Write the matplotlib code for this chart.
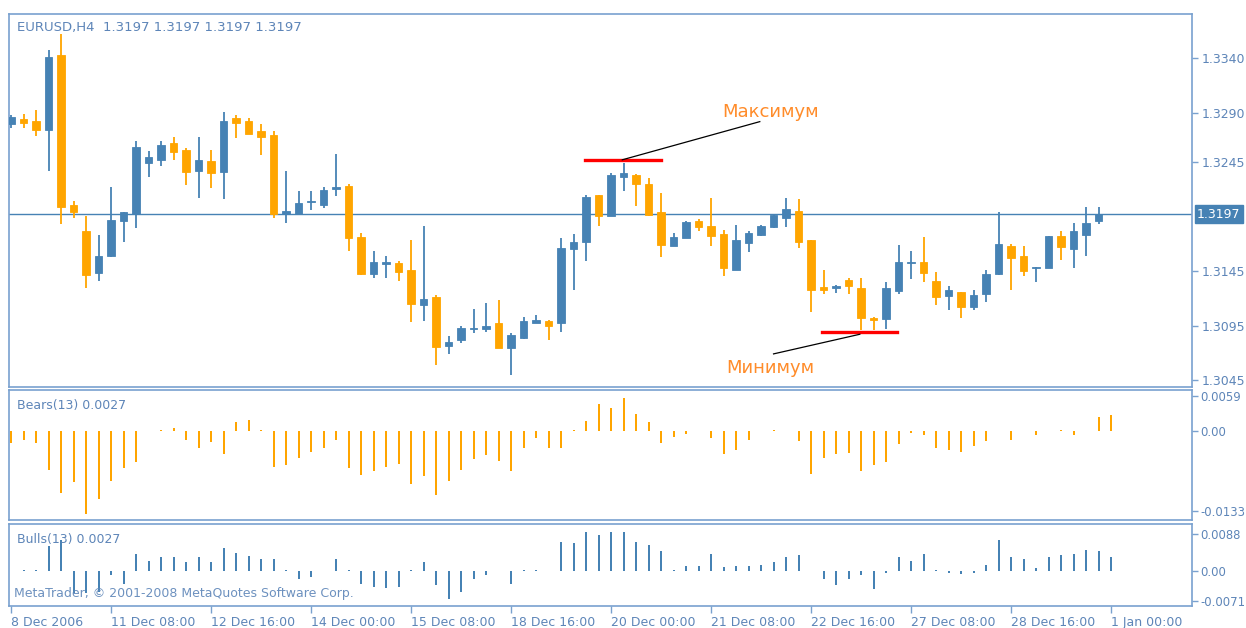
"""
EURUSD H4 chart with Bears Power / Bulls Power (13) panels,
redrawn in MetaTrader 4 style.

Output:
    out.png
"""

import numpy as np
import matplotlib.pyplot as plt
from matplotlib.transforms import blended_transform_factory


# ---------------------------------------------------------------------
# Plot style
# ---------------------------------------------------------------------

plt.rcParams.update({
    "font.family": "DejaVu Sans",
    "font.size": 9,
})

BLUE = "#4682b4"
ORANGE = "#ffa500"
FRAME = "#79a1cf"
TEXT = "#5d85b8"
NOTE = "#ff8c2a"


# ---------------------------------------------------------------------
# Data (EURUSD, H4, 8 Dec 2006 - 1 Jan 2007)
# ---------------------------------------------------------------------

opens = [
    1.3280, 1.3284, 1.3283, 1.3274, 1.3343, 1.3206, 1.3182, 1.3143, 1.3159, 1.3191,
    1.3197, 1.3244, 1.3247, 1.3262, 1.3256, 1.3237, 1.3246, 1.3236, 1.3285, 1.3283,
    1.3273, 1.3270, 1.3197, 1.3197, 1.3208, 1.3206, 1.3220, 1.3223, 1.3176, 1.3142,
    1.3151, 1.3152, 1.3146, 1.3114, 1.3121, 1.3076, 1.3082, 1.3092, 1.3092, 1.3097,
    1.3074, 1.3084, 1.3097, 1.3099, 1.3097, 1.3165, 1.3172, 1.3215, 1.3195, 1.3231,
    1.3233, 1.3225, 1.3199, 1.3168, 1.3175, 1.3191, 1.3186, 1.3179, 1.3146, 1.3171,
    1.3178, 1.3185, 1.3194, 1.3200, 1.3173, 1.3130, 1.3129, 1.3137, 1.3129, 1.3102,
    1.3101, 1.3127, 1.3152, 1.3153, 1.3136, 1.3122, 1.3126, 1.3112, 1.3124, 1.3142,
    1.3168, 1.3159, 1.3148, 1.3148, 1.3177, 1.3165, 1.3178, 1.3191, 1.3197,
]

highs = [
    1.3288, 1.3289, 1.3293, 1.3348, 1.3362, 1.3209, 1.3195, 1.3178, 1.3222, 1.3199,
    1.3264, 1.3255, 1.3264, 1.3268, 1.3258, 1.3268, 1.3256, 1.3291, 1.3288, 1.3285,
    1.3280, 1.3273, 1.3237, 1.3218, 1.3218, 1.3222, 1.3252, 1.3225, 1.3180, 1.3163,
    1.3159, 1.3154, 1.3173, 1.3186, 1.3123, 1.3085, 1.3095, 1.3110, 1.3116, 1.3118,
    1.3088, 1.3103, 1.3105, 1.3100, 1.3175, 1.3179, 1.3215, 1.3215, 1.3235, 1.3244,
    1.3234, 1.3230, 1.3217, 1.3180, 1.3191, 1.3193, 1.3212, 1.3183, 1.3187, 1.3182,
    1.3187, 1.3197, 1.3212, 1.3211, 1.3173, 1.3146, 1.3132, 1.3139, 1.3139, 1.3103,
    1.3135, 1.3169, 1.3163, 1.3176, 1.3144, 1.3131, 1.3126, 1.3128, 1.3146, 1.3199,
    1.3170, 1.3168, 1.3149, 1.3177, 1.3182, 1.3189, 1.3204, 1.3204, 1.3197,
]

lows = [
    1.3276, 1.3276, 1.3269, 1.3237, 1.3188, 1.3194, 1.3129, 1.3136, 1.3158, 1.3172,
    1.3184, 1.3231, 1.3241, 1.3247, 1.3224, 1.3212, 1.3221, 1.3211, 1.3267, 1.3271,
    1.3251, 1.3194, 1.3189, 1.3197, 1.3201, 1.3203, 1.3214, 1.3163, 1.3141, 1.3139,
    1.3139, 1.3136, 1.3098, 1.3099, 1.3059, 1.3069, 1.3079, 1.3088, 1.3089, 1.3074,
    1.3050, 1.3083, 1.3097, 1.3082, 1.3089, 1.3128, 1.3154, 1.3186, 1.3195, 1.3218,
    1.3205, 1.3195, 1.3158, 1.3168, 1.3175, 1.3182, 1.3168, 1.3140, 1.3146, 1.3162,
    1.3177, 1.3184, 1.3185, 1.3166, 1.3107, 1.3124, 1.3125, 1.3124, 1.3091, 1.3091,
    1.3092, 1.3124, 1.3138, 1.3135, 1.3114, 1.3109, 1.3102, 1.3109, 1.3117, 1.3141,
    1.3128, 1.3140, 1.3135, 1.3148, 1.3155, 1.3148, 1.3159, 1.3188, 1.3197,
]

closes = [
    1.3286, 1.3281, 1.3274, 1.3341, 1.3204, 1.3199, 1.3141, 1.3159, 1.3192, 1.3199,
    1.3259, 1.3250, 1.3261, 1.3254, 1.3236, 1.3247, 1.3235, 1.3283, 1.3281, 1.3271,
    1.3268, 1.3197, 1.3200, 1.3207, 1.3209, 1.3219, 1.3222, 1.3175, 1.3142, 1.3153,
    1.3153, 1.3144, 1.3115, 1.3119, 1.3075, 1.3080, 1.3093, 1.3093, 1.3095, 1.3074,
    1.3086, 1.3099, 1.3100, 1.3095, 1.3166, 1.3172, 1.3213, 1.3195, 1.3233, 1.3235,
    1.3225, 1.3196, 1.3169, 1.3176, 1.3190, 1.3185, 1.3177, 1.3148, 1.3173, 1.3180,
    1.3186, 1.3196, 1.3202, 1.3172, 1.3128, 1.3128, 1.3131, 1.3131, 1.3102, 1.3100,
    1.3129, 1.3153, 1.3153, 1.3143, 1.3121, 1.3128, 1.3112, 1.3123, 1.3142, 1.3170,
    1.3157, 1.3145, 1.3149, 1.3177, 1.3167, 1.3182, 1.3189, 1.3197, 1.3197,
]

bears = [
    -0.0020, -0.0015, -0.0020, -0.0064, -0.0103, -0.0085, -0.0138, -0.0114, -0.0083, -0.0062,
    -0.0051, 0.0000, 0.0003, 0.0006, -0.0015, -0.0028, -0.0018, -0.0038, 0.0016, 0.0019,
    0.0002, -0.0060, -0.0057, -0.0044, -0.0034, -0.0028, -0.0015, -0.0062, -0.0074, -0.0067,
    -0.0060, -0.0055, -0.0088, -0.0075, -0.0106, -0.0083, -0.0064, -0.0046, -0.0039, -0.0049,
    -0.0067, -0.0028, -0.0012, -0.0028, -0.0028, 0.0003, 0.0018, 0.0045, 0.0039, 0.0055,
    0.0029, 0.0016, -0.0020, -0.0010, -0.0004, 0.0001, -0.0012, -0.0038, -0.0031, -0.0015,
    0.0000, 0.0003, 0.0001, -0.0017, -0.0071, -0.0044, -0.0038, -0.0036, -0.0067, -0.0057,
    -0.0051, -0.0021, -0.0003, -0.0007, -0.0028, -0.0031, -0.0034, -0.0025, -0.0017, 0.0001,
    -0.0015, 0.0000, -0.0007, 0.0000, 0.0003, -0.0007, 0.0000, 0.0024, 0.0027,
]

bulls = [
    0.0001, 0.0002, 0.0002, 0.0059, 0.0075, -0.0052, -0.0052, -0.0050, -0.0009, -0.0031,
    0.0041, 0.0025, 0.0033, 0.0033, 0.0021, 0.0033, 0.0021, 0.0054, 0.0044, 0.0036,
    0.0029, 0.0029, 0.0002, -0.0019, -0.0015, 0.0001, 0.0029, 0.0002, -0.0030, -0.0039,
    -0.0041, -0.0038, 0.0003, 0.0021, -0.0034, -0.0067, -0.0049, -0.0019, -0.0009, 0.0000,
    -0.0031, 0.0002, 0.0002, 0.0001, 0.0070, 0.0066, 0.0092, 0.0085, 0.0092, 0.0092,
    0.0069, 0.0063, 0.0047, 0.0003, 0.0013, 0.0013, 0.0041, 0.0010, 0.0013, 0.0011,
    0.0014, 0.0021, 0.0033, 0.0037, 0.0000, -0.0019, -0.0034, -0.0019, -0.0009, -0.0042,
    -0.0005, 0.0033, 0.0025, 0.0041, 0.0002, -0.0005, -0.0007, -0.0005, 0.0014, 0.0073,
    0.0033, 0.0029, 0.0007, 0.0033, 0.0037, 0.0041, 0.0051, 0.0047, 0.0033,
]

date_ticks = [0, 8, 16, 24, 32, 40, 48, 56, 64, 72, 80, 88]
date_labels = [
    "8 Dec 2006", "11 Dec 08:00", "12 Dec 16:00", "14 Dec 00:00",
    "15 Dec 08:00", "18 Dec 16:00", "20 Dec 00:00", "21 Dec 08:00",
    "22 Dec 16:00", "27 Dec 08:00", "28 Dec 16:00", "1 Jan 00:00",
]

price_ticks = [1.3340, 1.3290, 1.3245, 1.3145, 1.3095, 1.3045]
bears_ticks = [0.0059, 0.0, -0.0133]
bears_tick_labels = ["0.0059", "0.00", "-0.0133"]
bulls_ticks = [0.0088, 0.0, -0.0071]
bulls_tick_labels = ["0.0088", "0.00", "-0.0071"]

last_price = 1.3197

# Drawn objects: high / low markers with their labels
max_level, max_from, max_to = 1.3247, 45.9, 52.0
max_leader_x, max_leader_y = [48.9, 59.9], [1.3247, 1.3282]
max_label_x, max_label_y = 56.9, 1.3291

min_level, min_from, min_to = 1.3089, 64.9, 70.9
min_leader_x, min_leader_y = [61.0, 67.9], [1.3069, 1.3087]
min_label_x, min_label_y = 57.2, 1.3056


# ---------------------------------------------------------------------
# Figure layout (three stacked windows like the terminal)
# ---------------------------------------------------------------------

W, H = 1246, 628
fig = plt.figure(figsize=(W / 100, H / 100), dpi=100)


def pane(top, bottom, left=9.3, right=1192.3):
    return fig.add_axes([left / W, 1 - bottom / H, (right - left) / W, (bottom - top) / H])


ax_price = pane(14, 386.5)
ax_bears = pane(389.7, 520.3)
ax_bulls = pane(524, 606.3)

x = np.arange(len(opens))
x_limits = (-0.14, 94.5)

for ax in (ax_price, ax_bears, ax_bulls):
    ax.set_xlim(*x_limits)
    for spine in ax.spines.values():
        spine.set_color(FRAME)
        spine.set_linewidth(1.2)
    ax.yaxis.tick_right()
    ax.tick_params(axis="y", direction="out", length=4, width=1,
                   colors=FRAME, labelcolor=TEXT, pad=3, labelsize=9)
    ax.tick_params(axis="x", bottom=False, labelbottom=False)

# indicator scales carry longer labels, keep them inside the picture
for ax in (ax_bears, ax_bulls):
    ax.tick_params(axis="y", pad=1.5, labelsize=8.4)


# ---------------------------------------------------------------------
# Candles
# ---------------------------------------------------------------------

o = np.array(opens)
h = np.array(highs)
l = np.array(lows)
c = np.array(closes)

colors = [BLUE if cl >= op else ORANGE for op, cl in zip(o, c)]
body_low = np.minimum(o, c)
body_height = np.maximum(np.abs(c - o), 0.00004)

ax_price.axhline(last_price, color=BLUE, linewidth=1.0, zorder=1)
ax_price.vlines(x, l, h, colors=colors, linewidth=1.3, zorder=2)
ax_price.bar(x, body_height, bottom=body_low, width=0.6, color=colors,
             edgecolor=colors, linewidth=0.6, zorder=3)

ax_price.set_ylim(1.30391, 1.33807)
ax_price.set_yticks(price_ticks)
ax_price.set_yticklabels([f"{p:.4f}" for p in price_ticks])

# current price tag
ax_price.annotate(
    f"{last_price:.4f}",
    xy=(1.0, last_price),
    xycoords=blended_transform_factory(ax_price.transAxes, ax_price.transData),
    xytext=(3.5, 0),
    textcoords="offset points",
    ha="left",
    va="center",
    color="white",
    fontsize=9,
    bbox=dict(boxstyle="square,pad=0.2", fc=BLUE, ec=BLUE),
    annotation_clip=False,
)

# high / low markers
ax_price.plot([max_from, max_to], [max_level, max_level], color="red", linewidth=2.4, zorder=4)
ax_price.plot(max_leader_x, max_leader_y, color="black", linewidth=0.9, zorder=4)
ax_price.text(max_label_x, max_label_y, "Максимум", color=NOTE, fontsize=13,
              ha="left", va="center")

ax_price.plot([min_from, min_to], [min_level, min_level], color="red", linewidth=2.4, zorder=4)
ax_price.plot(min_leader_x, min_leader_y, color="black", linewidth=0.9, zorder=4)
ax_price.text(min_label_x, min_label_y, "Минимум", color=NOTE, fontsize=13,
              ha="left", va="center")


# ---------------------------------------------------------------------
# Bears / Bulls Power histograms
# ---------------------------------------------------------------------

ax_bears.bar(x, bears, width=0.16, color=ORANGE, linewidth=0)
ax_bears.set_ylim(-0.01491, 0.00697)
ax_bears.set_yticks(bears_ticks)
ax_bears.set_yticklabels(bears_tick_labels)

ax_bulls.bar(x, bulls, width=0.16, color=BLUE, linewidth=0)
ax_bulls.set_ylim(-0.00842, 0.01121)
ax_bulls.set_yticks(bulls_ticks)
ax_bulls.set_yticklabels(bulls_tick_labels)

ax_bulls.set_xticks(date_ticks)
ax_bulls.set_xticklabels(date_labels, ha="left")
ax_bulls.tick_params(axis="x", bottom=True, labelbottom=True, direction="out",
                     length=5, width=1, colors=FRAME, labelcolor=TEXT,
                     pad=2, labelsize=9)


# ---------------------------------------------------------------------
# Window captions
# ---------------------------------------------------------------------

fig.text(17 / W, 1 - 27 / H, "EURUSD,H4  1.3197 1.3197 1.3197 1.3197",
         color=TEXT, fontsize=9.5, va="center")
fig.text(17 / W, 1 - 405 / H, "Bears(13) 0.0027", color=TEXT, fontsize=9, va="center")
fig.text(17 / W, 1 - 540 / H, "Bulls(13) 0.0027", color=TEXT, fontsize=9, va="center")
fig.text(14 / W, 1 - 594 / H, "MetaTrader, © 2001-2008 MetaQuotes Software Corp.",
         color=TEXT, fontsize=9, va="center", alpha=0.9)

fig.savefig("out.png", dpi=100, facecolor="white")
